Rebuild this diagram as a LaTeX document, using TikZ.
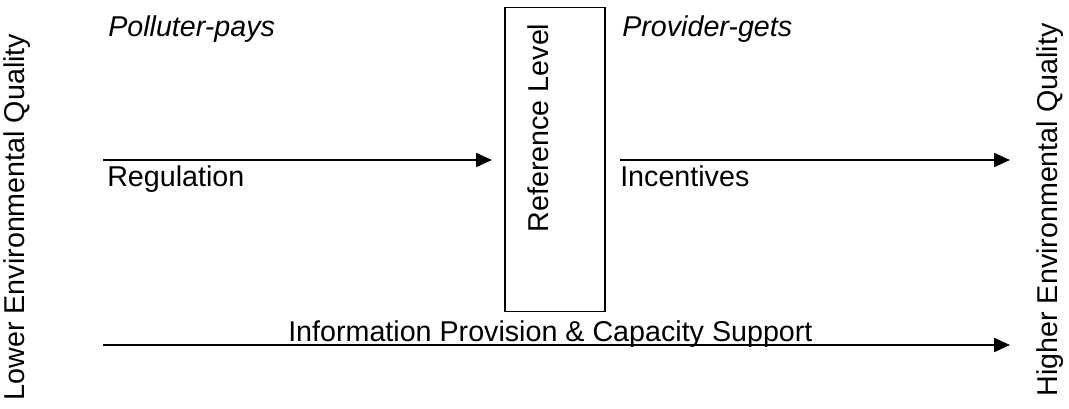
\documentclass[tikz,border=0pt]{standalone}
\usepackage{fontspec}
\setmainfont{Liberation Sans}
\usetikzlibrary{positioning,arrows.meta}

\begin{document}
\begin{tikzpicture}[x=0.75pt, y=-0.75pt, >={Triangle[length=12pt, width=10.5pt]},
  every node/.style={font=\fontsize{21.5}{25}\selectfont, inner sep=0pt},
  txt/.style={anchor=base west},
  side/.style={rotate=90, anchor=center},
  flow/.style={->, line width=1.6pt}]

\useasboundingbox (0,0) rectangle (1069,409);

% the reference level box
\node [draw, line width=1pt, minimum width=75pt, minimum height=228pt] (refbox) at (555,159.5) {};
\node [side] (reftext) at (538,128) {Reference Level};

% axis ends
\node [side] (lower) at (17,217) {Lower Environmental Quality};
\node [side] (higher) at (1050,210) {Higher Environmental Quality};

% arrow ends
\coordinate (reg-start) at (103,160);
\coordinate (reg-end) at (492,160);
\coordinate (inc-start) at (620,160);
\coordinate (inc-end) at (1010,160);
\coordinate (info-start) at (103,345);
\coordinate (info-end) at (1010,345);

\foreach \a/\b in {reg-start/reg-end, inc-start/inc-end, info-start/info-end}
  \draw [flow] (\a) -- (\b);

% labels
\node [txt, font=\fontsize{21.5}{25}\selectfont\itshape] (polluter) at (108,37) {Polluter-pays};
\node [txt, font=\fontsize{21.5}{25}\selectfont\itshape] (provider) at (622,37) {Provider-gets};
\node [txt] (regulation) at (107,187) {Regulation};
\node [txt] (incentives) at (620,187) {Incentives};
\node [txt] (info) at (288,341) {Information Provision \& Capacity Support};

\end{tikzpicture}
\end{document}
